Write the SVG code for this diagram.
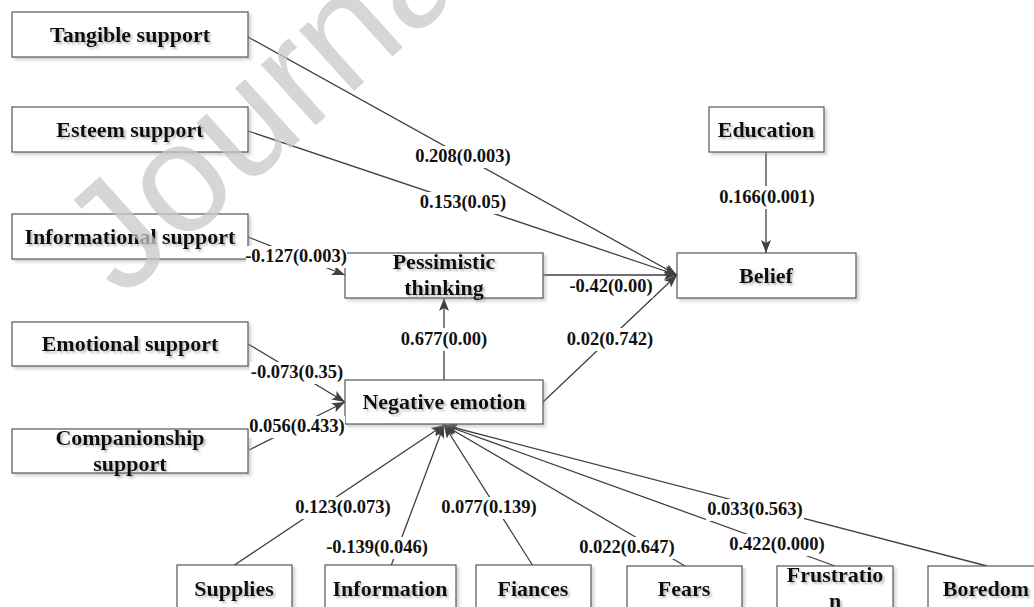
<svg xmlns="http://www.w3.org/2000/svg" width="1034" height="607" viewBox="0 0 1034 607">
<style>
.box{fill:#fff;stroke:#555;stroke-width:1.2}
.nt{font-family:"Liberation Serif","Times New Roman",serif;font-weight:bold;font-size:22px;fill:#111;text-anchor:middle}
.lt{font-family:"Liberation Serif","Times New Roman",serif;font-weight:bold;font-size:18.5px;fill:#111;text-anchor:middle}
.lb{fill:#fff}
.cn{fill:none;stroke:#404040;stroke-width:1.3}
.wm{font-family:"Liberation Sans",Arial,sans-serif;font-size:155px;fill:#c8c8c8;fill-opacity:0.75}
</style>
<defs>
<marker id="ah" markerUnits="userSpaceOnUse" markerWidth="14" markerHeight="12" refX="13" refY="5" orient="auto">
<path d="M0,0 L13,5 L0,10 L3,5 z" fill="#404040"/>
</marker>
<filter id="bs" x="-5%" y="-10%" width="115%" height="130%">
<feDropShadow dx="2.5" dy="2.5" stdDeviation="1.5" flood-color="#999" flood-opacity="0.45"/>
</filter>
<filter id="ts" x="-5%" y="-20%" width="115%" height="150%">
<feDropShadow dx="2" dy="2" stdDeviation="1.2" flood-color="#777" flood-opacity="0.5"/>
</filter>
</defs>

<g id="connectors">
<line class="cn" x1="248" y1="37" x2="677" y2="275" marker-end="url(#ah)"/>
<line class="cn" x1="248" y1="131" x2="677" y2="275" marker-end="url(#ah)"/>
<line class="cn" x1="248" y1="237" x2="345" y2="275" marker-end="url(#ah)"/>
<line class="cn" x1="543" y1="275" x2="677" y2="275" marker-end="url(#ah)"/>
<line class="cn" x1="766" y1="152" x2="766" y2="253" marker-end="url(#ah)"/>
<line class="cn" x1="444" y1="380" x2="444" y2="298" marker-end="url(#ah)"/>
<line class="cn" x1="543" y1="402" x2="677" y2="275" marker-end="url(#ah)"/>
<line class="cn" x1="248" y1="344" x2="345" y2="402" marker-end="url(#ah)"/>
<line class="cn" x1="249" y1="450" x2="345" y2="402" marker-end="url(#ah)"/>
<line class="cn" x1="233" y1="566" x2="444" y2="425" marker-end="url(#ah)"/>
<line class="cn" x1="391" y1="566" x2="444" y2="425" marker-end="url(#ah)"/>
<line class="cn" x1="533" y1="566" x2="444" y2="425" marker-end="url(#ah)"/>
<line class="cn" x1="685" y1="566" x2="444" y2="425" marker-end="url(#ah)"/>
<line class="cn" x1="835" y1="566" x2="444" y2="425" marker-end="url(#ah)"/>
<line class="cn" x1="987" y1="566" x2="444" y2="425" marker-end="url(#ah)"/>
</g>

<g id="n-tangible"><rect class="box" filter="url(#bs)" x="12" y="12" width="236" height="45"/><text class="nt" filter="url(#ts)" x="130" y="42">Tangible support</text></g>
<g id="n-esteem"><rect class="box" filter="url(#bs)" x="12" y="107" width="236" height="45"/><text class="nt" filter="url(#ts)" x="130" y="137">Esteem support</text></g>
<g id="n-informational"><rect class="box" filter="url(#bs)" x="12" y="214" width="236" height="45"/><text class="nt" filter="url(#ts)" x="130" y="244">Informational support</text></g>
<g id="n-emotional"><rect class="box" filter="url(#bs)" x="12" y="322" width="236" height="44"/><text class="nt" filter="url(#ts)" x="130" y="351">Emotional support</text></g>
<g id="n-companionship"><rect class="box" filter="url(#bs)" x="12" y="429" width="236" height="44"/><text class="nt" filter="url(#ts)" x="130" y="445">Companionship</text><text class="nt" filter="url(#ts)" x="130" y="471">support</text></g>
<g id="n-pessimistic"><rect class="box" filter="url(#bs)" x="345" y="253" width="198" height="45"/><text class="nt" filter="url(#ts)" x="444" y="269">Pessimistic</text><text class="nt" filter="url(#ts)" x="444" y="295">thinking</text></g>
<g id="n-negative"><rect class="box" filter="url(#bs)" x="345" y="380" width="198" height="44"/><text class="nt" filter="url(#ts)" x="444" y="409">Negative emotion</text></g>
<g id="n-education"><rect class="box" filter="url(#bs)" x="709" y="107" width="115" height="45"/><text class="nt" filter="url(#ts)" x="766" y="137">Education</text></g>
<g id="n-belief"><rect class="box" filter="url(#bs)" x="677" y="253" width="179" height="45"/><text class="nt" filter="url(#ts)" x="766" y="283">Belief</text></g>
<g id="n-supplies"><rect class="box" filter="url(#bs)" x="177" y="565" width="115" height="50"/><text class="nt" filter="url(#ts)" x="234" y="596">Supplies</text></g>
<g id="n-information"><rect class="box" filter="url(#bs)" x="325" y="565" width="131" height="50"/><text class="nt" filter="url(#ts)" x="390" y="596">Information</text></g>
<g id="n-fiances"><rect class="box" filter="url(#bs)" x="476" y="565" width="115" height="50"/><text class="nt" filter="url(#ts)" x="533" y="596">Fiances</text></g>
<g id="n-fears"><rect class="box" filter="url(#bs)" x="627" y="566" width="115" height="50"/><text class="nt" filter="url(#ts)" x="684" y="596">Fears</text></g>
<g id="n-frustration"><rect class="box" filter="url(#bs)" x="777" y="566" width="116" height="50"/><text class="nt" filter="url(#ts)" x="835" y="582">Frustratio</text><text class="nt" filter="url(#ts)" x="835" y="608">n</text></g>
<g id="n-boredom"><rect class="box" filter="url(#bs)" x="928" y="566" width="115" height="50"/><text class="nt" filter="url(#ts)" x="986" y="596">Boredom</text></g>

<g id="labels">
<rect class="lb" x="413" y="146" width="100" height="22"/><text class="lt" x="463" y="162">0.208(0.003)</text>
<rect class="lb" x="418" y="192" width="90" height="22"/><text class="lt" x="463" y="208">0.153(0.05)</text>
<rect class="lb" x="246" y="246" width="101" height="22"/><text class="lt" x="296" y="262">-0.127(0.003)</text>
<rect class="lb" x="568" y="276" width="85" height="22"/><text class="lt" x="611" y="292">-0.42(0.00)</text>
<rect class="lb" x="718" y="186" width="98" height="23"/><text class="lt" x="767" y="203">0.166(0.001)</text>
<rect class="lb" x="400" y="328" width="88" height="23"/><text class="lt" x="444" y="345">0.677(0.00)</text>
<rect class="lb" x="566" y="328" width="88" height="23"/><text class="lt" x="610" y="345">0.02(0.742)</text>
<rect class="lb" x="250" y="362" width="94" height="22"/><text class="lt" x="297" y="378">-0.073(0.35)</text>
<rect class="lb" x="249" y="416" width="96" height="22"/><text class="lt" x="297" y="432">0.056(0.433)</text>
<rect class="lb" x="294" y="497" width="98" height="22"/><text class="lt" x="343" y="513">0.123(0.073)</text>
<rect class="lb" x="326" y="537" width="103" height="22"/><text class="lt" x="377" y="553">-0.139(0.046)</text>
<rect class="lb" x="440" y="497" width="98" height="22"/><text class="lt" x="489" y="513">0.077(0.139)</text>
<rect class="lb" x="578" y="537" width="98" height="22"/><text class="lt" x="627" y="553">0.022(0.647)</text>
<rect class="lb" x="728" y="534" width="98" height="22"/><text class="lt" x="777" y="550">0.422(0.000)</text>
<rect class="lb" x="706" y="499" width="98" height="22"/><text class="lt" x="755" y="515">0.033(0.563)</text>
</g>

<text class="wm" transform="translate(122,300) rotate(-42)">Journal</text>
</svg>
